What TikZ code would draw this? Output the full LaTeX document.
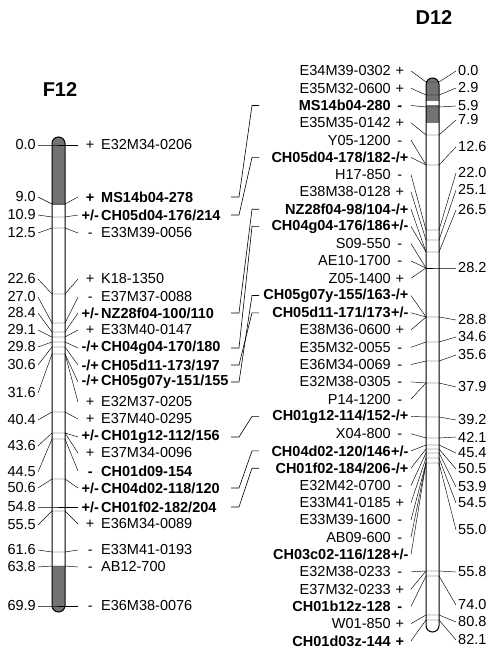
\documentclass[tikz,border=0pt]{standalone}
\usepackage{fontspec}
\setmainfont{Liberation Sans}
\newcommand\sz{\fontsize{14.5pt}{16pt}\selectfont}
\newcommand\flab[2]{\makebox[20pt][c]{#1}\hspace{1pt}#2}
\newcommand\dlab[2]{#1\makebox[18pt][c]{#2}}
\tikzset{
	mk/.style={inner sep=2pt, font=\sz},
	bmk/.style={inner sep=2pt, font=\sz\bfseries},
	ttl/.style={inner sep=0pt, font=\fontsize{20pt}{22pt}\selectfont\bfseries},
	fan/.style={line width=0.45pt},
	cband/.style={fill=black!55},
	link/.style={line width=0.6pt}
}
\begin{document}
\begin{tikzpicture}[x=1pt, y=-1pt]
    \useasboundingbox (0,0) rectangle (492,650);
    \node[ttl] (f12) at (60,90) {F12};
    \node[ttl] (d12) at (434,18) {D12};

    % F12 loci: value / label y / bar y
    \foreach \v/\ly/\by [count=\i] in {0.0/145/145, 9.0/197/204, 10.9/215/217, 12.5/233/228, 22.6/279/294, 27.0/297/323, 28.4/313/332, 29.1/330/337, 29.8/347/342, 30.6/365/347, 31.6/393/354, 40.4/420/412, 43.6/446/433, 44.5/472/439, 50.6/488/479, 54.8/507/507, 55.5/525/511, 61.6/550/552, 63.8/567/566, 69.9/606/606} {
        \node[mk, anchor=east] (fn\i) at (38,\ly) {\v};
        \coordinate (fbL\i) at (52,\by);
        \coordinate (fbR\i) at (65,\by);
    }
    \node[mk, anchor=west] (fm1) at (78,145) {\flab{+}{E32M34-0206}};
    \node[bmk, anchor=west] (fm2) at (78,197) {\flab{+}{MS14b04-278}};
    \node[bmk, anchor=west] (fm3) at (78,215) {\flab{+/-}{CH05d04-176/214}};
    \node[mk, anchor=west] (fm4) at (78,233) {\flab{-}{E33M39-0056}};
    \node[mk, anchor=west] (fm5) at (78,279) {\flab{+}{K18-1350}};
    \node[mk, anchor=west] (fm6) at (78,297) {\flab{-}{E37M37-0088}};
    \node[bmk, anchor=west] (fm7) at (78,313) {\flab{+/-}{NZ28f04-100/110}};
    \node[mk, anchor=west] (fm8) at (78,330) {\flab{+}{E33M40-0147}};
    \node[bmk, anchor=west] (fm9) at (78,348) {\flab{-/+}{CH04g04-170/180}};
    \node[bmk, anchor=west] (fm10) at (78,365) {\flab{-/+}{CH05d11-173/197}};
    \node[bmk, anchor=west] (fm11) at (78,382) {\flab{-/+}{CH05g07y-151/155}};
    \node[mk, anchor=west] (fm12) at (78,402) {\flab{+}{E32M37-0205}};
    \node[mk, anchor=west] (fm13) at (78,419) {\flab{+}{E37M40-0295}};
    \node[bmk, anchor=west] (fm14) at (78,437) {\flab{+/-}{CH01g12-112/156}};
    \node[mk, anchor=west] (fm15) at (78,453) {\flab{+}{E37M34-0096}};
    \node[bmk, anchor=west] (fm16) at (78,471) {\flab{-}{CH01d09-154}};
    \node[bmk, anchor=west] (fm17) at (78,488) {\flab{+/-}{CH04d02-118/120}};
    \node[bmk, anchor=west] (fm18) at (78,507) {\flab{+/-}{CH01f02-182/204}};
    \node[mk, anchor=west] (fm19) at (78,524) {\flab{+}{E36M34-0089}};
    \node[mk, anchor=west] (fm20) at (78,550) {\flab{-}{E33M41-0193}};
    \node[mk, anchor=west] (fm21) at (78,567) {\flab{-}{AB12-700}};
    \node[mk, anchor=west] (fm22) at (78,606) {\flab{-}{E36M38-0076}};

    % F12 chromosome
    \begin{scope}
        \clip[rounded corners=6.5pt] (52,137) rectangle (65,612);
        \fill[cband] (52,137) rectangle (65,205);
        \fill[cband] (52,566) rectangle (65,612);
    \end{scope}
    \draw[line width=1pt, rounded corners=6.5pt] (52,137) rectangle (65,612);
    \foreach \i in {1,...,20} {
        \draw[fan] (fn\i.east) -- (fbL\i) -- (fbR\i);
    }
    \foreach \i/\k in {1/1, 2/2, 3/3, 4/4, 5/5, 6/6, 7/7, 8/8, 9/9, 10/10, 11/11, 12/11, 13/12, 14/13, 15/13, 16/14, 17/15, 18/16, 19/17, 20/18, 21/19, 22/20} {
        \draw[fan] (fbR\k) -- (fm\i.west);
    }

    % D12 loci: value / label y / bar y
    \foreach \v/\ly/\by [count=\i] in {0.0/71/82, 2.9/88/95, 5.9/106/107, 7.9/120/135, 12.6/147/165, 22.0/173/230, 25.1/190/240, 26.5/210/252, 28.2/268/268, 28.8/320/317, 34.6/337/342, 35.6/355/361, 37.9/387/383, 39.2/420/417, 42.1/437/438, 45.4/453/445, 50.5/469/449, 53.9/487/453, 54.5/503/458, 55.0/530/463, 55.8/572/571, 74.0/605/576, 80.8/622/615, 82.1/640/620} {
        \node[mk, anchor=west] (dn\i) at (456,\ly) {\v};
        \coordinate (dbL\i) at (426,\by);
        \coordinate (dbR\i) at (439,\by);
    }
    \node[mk, anchor=east] (dm1) at (411,71) {\dlab{E34M39-0302}{+}};
    \node[mk, anchor=east] (dm2) at (411,88.3) {\dlab{E35M32-0600}{+}};
    \node[bmk, anchor=east] (dm3) at (411,105.5) {\dlab{MS14b04-280}{-}};
    \node[mk, anchor=east] (dm4) at (411,122.8) {\dlab{E35M35-0142}{+}};
    \node[mk, anchor=east] (dm5) at (411,140.1) {\dlab{Y05-1200}{-}};
    \node[bmk, anchor=east] (dm6) at (411,157.4) {\dlab{CH05d04-178/182}{-/+}};
    \node[mk, anchor=east] (dm7) at (411,174.6) {\dlab{H17-850}{-}};
    \node[mk, anchor=east] (dm8) at (411,191.9) {\dlab{E38M38-0128}{+}};
    \node[bmk, anchor=east] (dm9) at (411,209.2) {\dlab{NZ28f04-98/104}{-/+}};
    \node[bmk, anchor=east] (dm10) at (411,226.4) {\dlab{CH04g04-176/186}{+/-}};
    \node[mk, anchor=east] (dm11) at (411,243.7) {\dlab{S09-550}{-}};
    \node[mk, anchor=east] (dm12) at (411,261) {\dlab{AE10-1700}{-}};
    \node[mk, anchor=east] (dm13) at (411,278.2) {\dlab{Z05-1400}{+}};
    \node[bmk, anchor=east] (dm14) at (411,295.5) {\dlab{CH05g07y-155/163}{-/+}};
    \node[bmk, anchor=east] (dm15) at (411,312.8) {\dlab{CH05d11-171/173}{+/-}};
    \node[mk, anchor=east] (dm16) at (411,330) {\dlab{E38M36-0600}{+}};
    \node[mk, anchor=east] (dm17) at (411,347.3) {\dlab{E35M32-0055}{-}};
    \node[mk, anchor=east] (dm18) at (411,364.6) {\dlab{E36M34-0069}{-}};
    \node[mk, anchor=east] (dm19) at (411,381.9) {\dlab{E32M38-0305}{-}};
    \node[mk, anchor=east] (dm20) at (411,399.1) {\dlab{P14-1200}{-}};
    \node[bmk, anchor=east] (dm21) at (411,416.4) {\dlab{CH01g12-114/152}{-/+}};
    \node[mk, anchor=east] (dm22) at (411,433.7) {\dlab{X04-800}{-}};
    \node[bmk, anchor=east] (dm23) at (411,450.9) {\dlab{CH04d02-120/146}{+/-}};
    \node[bmk, anchor=east] (dm24) at (411,468.2) {\dlab{CH01f02-184/206}{-/+}};
    \node[mk, anchor=east] (dm25) at (411,485.5) {\dlab{E32M42-0700}{-}};
    \node[mk, anchor=east] (dm26) at (411,502.7) {\dlab{E33M41-0185}{+}};
    \node[mk, anchor=east] (dm27) at (411,520) {\dlab{E33M39-1600}{-}};
    \node[mk, anchor=east] (dm28) at (411,537.3) {\dlab{AB09-600}{-}};
    \node[bmk, anchor=east] (dm29) at (411,554.6) {\dlab{CH03c02-116/128}{+/-}};
    \node[mk, anchor=east] (dm30) at (411,571.8) {\dlab{E32M38-0233}{-}};
    \node[mk, anchor=east] (dm31) at (411,589.1) {\dlab{E37M32-0233}{+}};
    \node[bmk, anchor=east] (dm32) at (411,606.4) {\dlab{CH01b12z-128}{-}};
    \node[mk, anchor=east] (dm33) at (411,623.6) {\dlab{W01-850}{+}};
    \node[bmk, anchor=east] (dm34) at (411,640.9) {\dlab{CH01d03z-144}{+}};

    % D12 chromosome
    \begin{scope}
        \clip[rounded corners=6.5pt] (426,78) rectangle (439,632);
        \fill[cband] (426,78) rectangle (439,101);
        \fill[cband] (426,105) rectangle (439,123);
    \end{scope}
    \draw[line width=1pt, rounded corners=6.5pt] (426,78) rectangle (439,632);
    \foreach \i in {1,...,24} {
        \draw[fan] (dn\i.west) -- (dbR\i) -- (dbL\i);
    }
    \foreach \i/\k in {1/1, 2/2, 3/3, 4/4, 5/5, 6/5, 7/6, 8/7, 9/8, 10/8, 11/9, 12/9, 13/9, 14/10, 15/10, 16/10, 17/11, 18/12, 19/13, 20/13, 21/14, 22/15, 23/16, 24/17, 25/18, 26/19, 27/20, 28/20, 29/20, 30/21, 31/21, 32/22, 33/23, 34/24} {
        \draw[fan] (dbL\k) -- (dm\i.east);
    }

    % links between the two maps
    \coordinate (fhk) at (231,0);
    \coordinate (fhook) at (239,0);
    \coordinate (dhook) at (252,0);
    \coordinate (dhk) at (259,0);
    \foreach \a/\b in {fm2/dm3, fm3/dm6, fm7/dm9, fm9/dm10, fm10/dm15, fm11/dm14, fm14/dm21, fm17/dm23, fm18/dm24} {
        \draw[link] (\a.east -| fhk) -- (\a.east -| fhook) -- (\b.west -| dhook) -- (\b.west -| dhk);
    }
\end{tikzpicture}
\end{document}
